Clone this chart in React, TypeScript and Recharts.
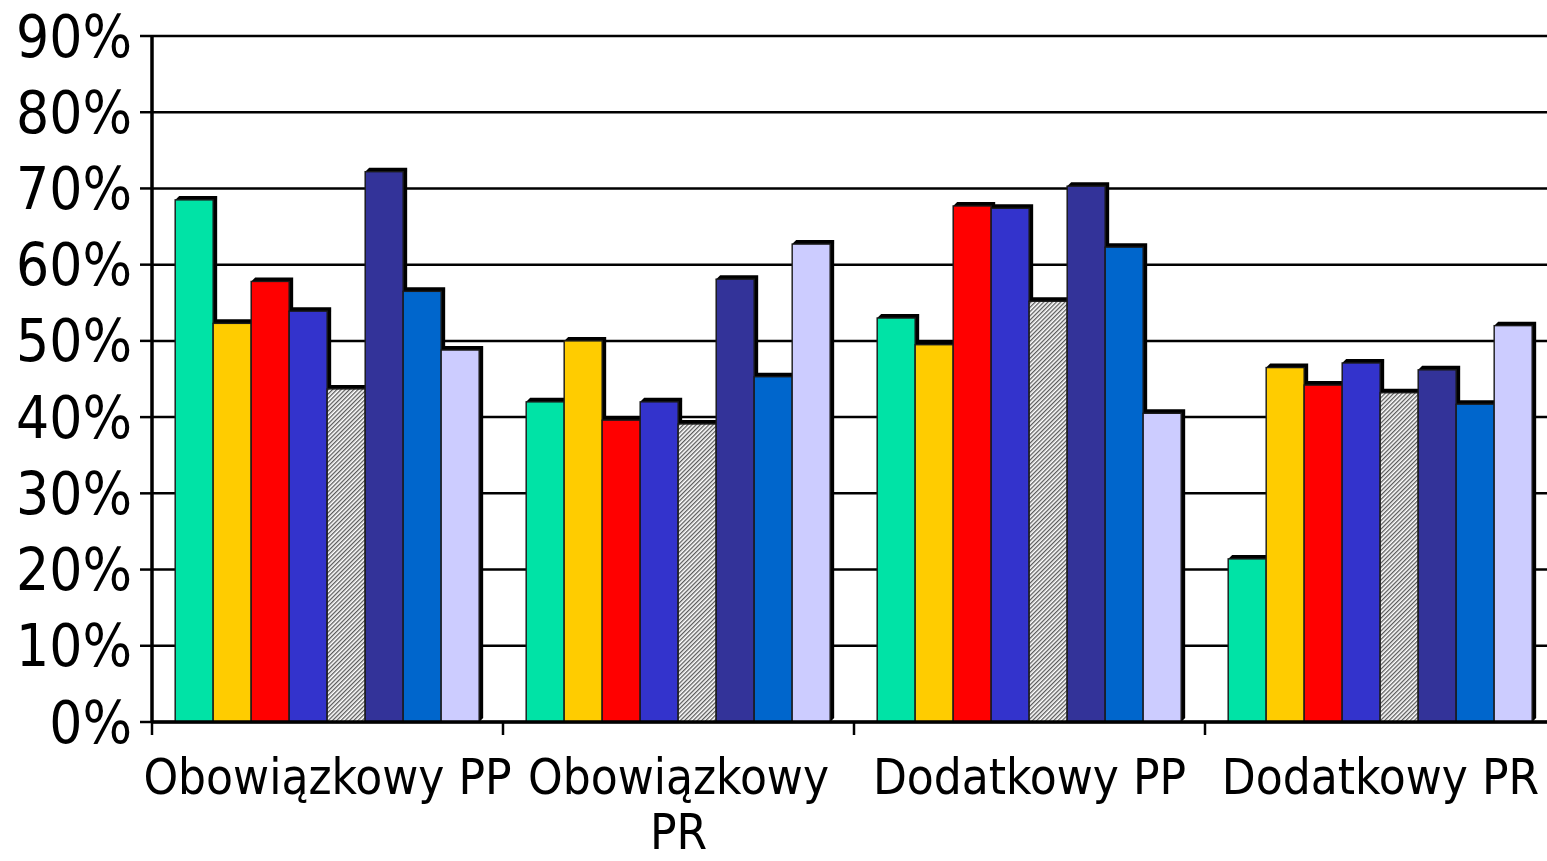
import React from "react";
import { BarChart, Bar, XAxis, YAxis, CartesianGrid } from "recharts";

const CATEGORIES = ["Obowiązkowy PP", "Obowiązkowy\nPR", "Dodatkowy PP", "Dodatkowy PR"];

// one list per series, values in %
const GREEN = [68.5, 42.0, 53.0, 21.4];
const YELLOW = [52.3, 50.0, 49.5, 46.5];
const RED = [57.8, 39.6, 67.7, 44.2];
const BLUE = [53.9, 42.0, 67.4, 47.1];
const HATCHED = [43.7, 39.1, 55.2, 43.2];
const NAVY = [72.2, 58.1, 70.3, 46.2];
const MID_BLUE = [56.5, 45.3, 62.3, 41.7];
const LAVENDER = [48.8, 62.7, 40.5, 52.0];

const Y_TICKS = [0, 10, 20, 30, 40, 50, 60, 70, 80, 90];

const SERIES = [
  { key: "s1", values: GREEN, fill: "#00E3A6" },
  { key: "s2", values: YELLOW, fill: "#FFCC00" },
  { key: "s3", values: RED, fill: "#FF0000" },
  { key: "s4", values: BLUE, fill: "#3333CC" },
  { key: "s5", values: HATCHED, fill: "url(#hatch)" },
  { key: "s6", values: NAVY, fill: "#333399" },
  { key: "s7", values: MID_BLUE, fill: "#0066CC" },
  { key: "s8", values: LAVENDER, fill: "#CCCCFF" },
];

const data = CATEGORIES.map((name, i) => {
  const row: Record<string, string | number> = { name };
  SERIES.forEach((s) => { row[s.key] = s.values[i]; });
  return row;
});

const FONT = "'DejaVu Sans Condensed', 'DejaVu Sans', sans-serif";

const CHART_W = 1560;
const CHART_H = 861;
const Y_AXIS_W = 152;
const RIGHT = 4;
const BAND = (CHART_W - Y_AXIS_W - RIGHT) / CATEGORIES.length;
const DEPTH = 4;

// Excel-ish 3D bar: black extrusion up/right, then the coloured face
function Bar3D(props: any) {
  const { x, y, width, height, fill } = props;
  if (!height || height <= 0) return null;
  const d = DEPTH;
  const pts = [
    [x, y],
    [x + d, y - d],
    [x + width + d, y - d],
    [x + width + d, y + height - d],
    [x + width, y + height],
    [x, y + height],
  ].map((p) => p.join(",")).join(" ");
  return (
    <g>
      <polygon points={pts} fill="#000" />
      <rect x={x} y={y} width={width} height={height} fill={fill} stroke="#1a1a1a" strokeWidth={1.4} />
    </g>
  );
}

function CategoryTick(props: any) {
  const { x, y, payload } = props;
  const lines = String(payload.value).split("\n");
  const left = x - BAND / 2;
  return (
    <g>
      <line x1={left} y1={y} x2={left} y2={y + 13} stroke="#000" strokeWidth={2.5} />
      <text x={x} y={y + 72} textAnchor="middle" fontFamily={FONT} fontSize={49} fill="#000">
        {lines.map((l, i) => (
          <tspan key={i} x={x} dy={i === 0 ? 0 : 55}>{l}</tspan>
        ))}
      </text>
    </g>
  );
}

export default function App() {
  return (
    <div style={{ position: "absolute", left: 0, top: 0, width: 1547, height: 861, overflow: "hidden", background: "#fff" }}>
      <BarChart
        width={CHART_W}
        height={CHART_H}
        data={data}
        margin={{ top: 36, right: RIGHT, bottom: 0, left: 0 }}
        barCategoryGap="6.6%"
        barGap={0}
      >
        <defs>
          <pattern id="hatch" width="3" height="3" patternUnits="userSpaceOnUse" patternTransform="rotate(45)">
            <rect width="3" height="3" fill="#ffffff" />
            <rect width="1.3" height="3" fill="#5a5a5a" />
          </pattern>
        </defs>
        <CartesianGrid horizontal vertical={false} stroke="#000" strokeWidth={2.5} />
        <XAxis
          dataKey="name"
          height={139}
          axisLine={{ stroke: "#000", strokeWidth: 3.5 }}
          tickLine={false}
          tickSize={0}
          tickMargin={0}
          tick={<CategoryTick />}
          interval={0}
        />
        <YAxis
          width={Y_AXIS_W}
          domain={[0, 90]}
          ticks={Y_TICKS}
          interval={0}
          tickFormatter={(v: number) => `${v}%`}
          axisLine={{ stroke: "#000", strokeWidth: 3.5 }}
          tickLine={{ stroke: "#000", strokeWidth: 2.5 }}
          tickSize={12}
          tickMargin={8}
          tick={{ fill: "#000", fontSize: 58, fontFamily: FONT }}
        />
        {SERIES.map((s) => (
          <Bar key={s.key} dataKey={s.key} fill={s.fill} shape={<Bar3D />} isAnimationActive={false} />
        ))}
      </BarChart>
    </div>
  );
}
